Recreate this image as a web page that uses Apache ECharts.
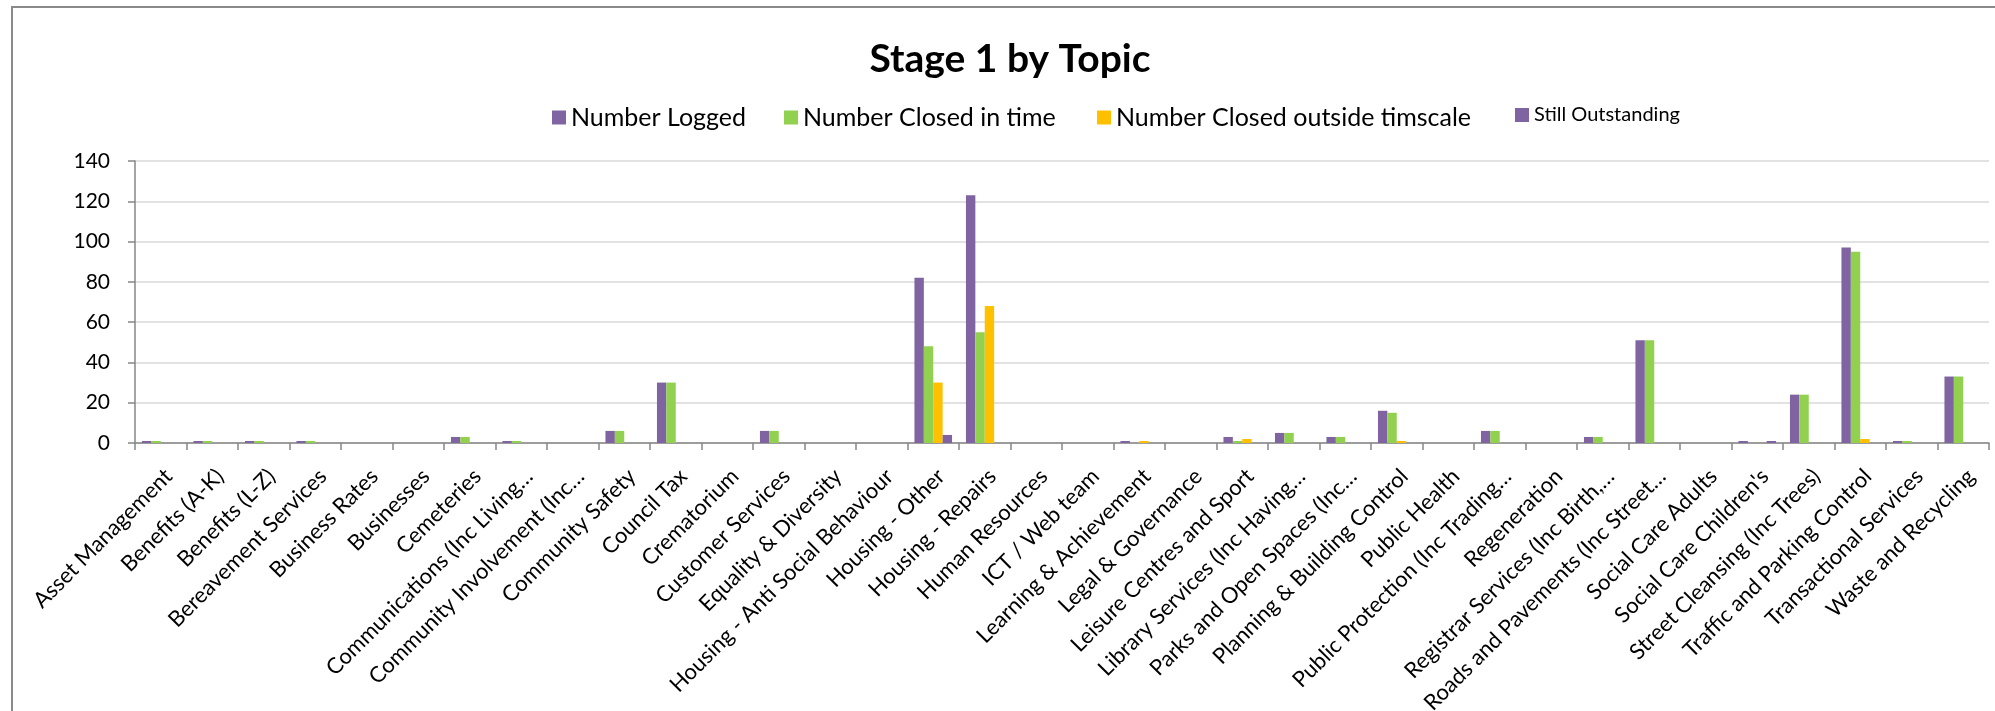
<!DOCTYPE html>
<html>
<head>
<meta charset="utf-8">
<script src="https://cdn.jsdelivr.net/npm/echarts@6/dist/echarts.min.js"></script>
<style>
  html, body { margin: 0; padding: 0; background: #ffffff; }
  #chart { width: 1995px; height: 711px; }
</style>
</head>
<body>
<div id="chart"></div>
<script>
// Complaint topics (category axis)
const topics = [
  'Asset Management', 'Benefits (A-K)', 'Benefits (L-Z)', 'Bereavement Services',
  'Business Rates', 'Businesses', 'Cemeteries', 'Communications (Inc Living…',
  'Community Involvement (Inc…', 'Community Safety', 'Council Tax', 'Crematorium',
  'Customer Services', 'Equality & Diversity', 'Housing - Anti Social Behaviour',
  'Housing - Other', 'Housing - Repairs', 'Human Resources', 'ICT / Web team',
  'Learning & Achievement', 'Legal & Governance', 'Leisure Centres and Sport',
  'Library Services (Inc Having…', 'Parks and Open Spaces (Inc…',
  'Planning & Building Control', 'Public Health', 'Public Protection (Inc Trading…',
  'Regeneration', 'Registrar Services (Inc Birth,…', 'Roads and Pavements (Inc Street…',
  'Social Care Adults', "Social Care Children's", 'Street Cleansing (Inc Trees)',
  'Traffic and Parking Control', 'Transactional Services', 'Waste and Recycling'
];

// Stage 1 counts per topic
const numberLogged      = [1, 1, 1, 1, 0, 0, 3, 1, 0, 6, 30, 0, 6, 0, 0, 82, 123, 0, 0, 1, 0, 3, 5, 3, 16, 0, 6, 0, 3, 51, 0, 1, 24, 97, 1, 33];
const closedInTime      = [1, 1, 1, 1, 0, 0, 3, 1, 0, 6, 30, 0, 6, 0, 0, 48, 55, 0, 0, 0, 0, 1, 5, 3, 15, 0, 6, 0, 3, 51, 0, 0, 24, 95, 1, 33];
const closedOutside     = [0, 0, 0, 0, 0, 0, 0, 0, 0, 0, 0, 0, 0, 0, 0, 30, 68, 0, 0, 1, 0, 2, 0, 0, 1, 0, 0, 0, 0, 0, 0, 0, 0, 2, 0, 0];
const stillOutstanding  = [0, 0, 0, 0, 0, 0, 0, 0, 0, 0, 0, 0, 0, 0, 0, 4, 0, 0, 0, 0, 0, 0, 0, 0, 0, 0, 0, 0, 0, 0, 0, 1, 0, 0, 0, 0];

// Value axis range
const yMin = 0, yMax = 140, yStep = 20;

const seriesNames = ['Number Logged', 'Number Closed in time', 'Number Closed outside timscale', 'Still Outstanding'];
const seriesData = [numberLogged, closedInTime, closedOutside, stillOutstanding];
const seriesColors = ['#8064A2', '#92D050', '#FFC000', '#8064A2'];

const FONT = 'Lato, "Liberation Sans", Arial, sans-serif';

// One legend block per series so each entry sits at its own x and text size
const legendLeft = [547, 779, 1092, 1510];
const legendFontSize = [25, 25, 25, 20];

const chart = echarts.init(document.getElementById('chart'), null, { renderer: 'canvas' });

chart.setOption({
  animation: false,
  backgroundColor: '#ffffff',
  textStyle: { fontFamily: FONT },
  title: {
    text: 'Stage 1 by Topic',
    left: 1005,
    top: 35,
    textAlign: 'center',
    textStyle: { fontFamily: FONT, fontSize: 39, fontWeight: 'bold', color: '#000000' }
  },
  legend: seriesNames.map((name, i) => ({
    left: legendLeft[i],
    top: 100,
    itemWidth: 14,
    itemHeight: 14,
    itemGap: 0,
    icon: 'rect',
    selectedMode: false,
    textStyle: { fontFamily: FONT, fontSize: legendFontSize[i], color: '#000000' },
    data: [name]
  })),
  graphic: [{
    type: 'rect',
    shape: { x: 12, y: 7, width: 2000, height: 720 },
    style: { fill: 'none', stroke: '#8a8a8a', lineWidth: 2 },
    silent: true
  }],
  grid: { left: 135, right: 6, top: 161, bottom: 268, containLabel: false, outerBoundsMode: 'none' },
  xAxis: {
    type: 'category',
    data: topics,
    axisLine: { lineStyle: { color: '#868686', width: 1.5 } },
    axisTick: { show: true, length: 7, lineStyle: { color: '#868686', width: 1.5 } },
    axisLabel: {
      interval: 0,
      rotate: 45,
      margin: 22,
      verticalAlign: 'top',
      fontFamily: FONT,
      fontSize: 22,
      color: '#000000'
    }
  },
  yAxis: {
    type: 'value',
    min: yMin,
    max: yMax,
    interval: yStep,
    axisLine: { show: true, lineStyle: { color: '#868686', width: 1.5 } },
    axisTick: { show: true, length: 7, lineStyle: { color: '#868686', width: 1.5 } },
    splitLine: { lineStyle: { color: '#d9d9d9', width: 1.5 } },
    axisLabel: { margin: 25, fontFamily: FONT, fontSize: 21, color: '#000000' }
  },
  series: seriesNames.map((name, i) => ({
    name: name,
    type: 'bar',
    data: seriesData[i],
    barGap: '0%',
    barCategoryGap: '27%',
    itemStyle: { color: seriesColors[i] }
  }))
});
</script>
</body>
</html>
